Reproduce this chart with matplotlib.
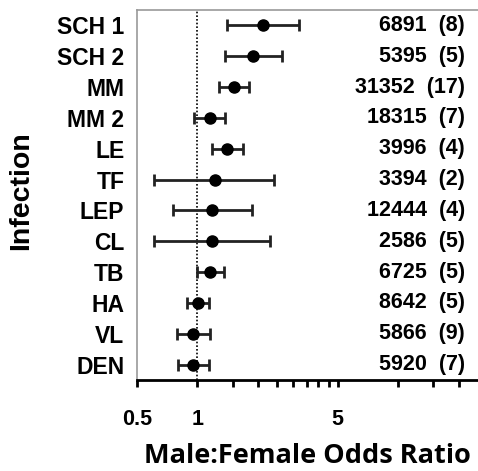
import numpy as np
import matplotlib.pyplot as plt
import matplotlib.transforms as mtransforms

infections = ['SCH 1', 'SCH 2', 'MM', 'MM 2', 'LE', 'TF', 'LEP', 'CL', 'TB', 'HA', 'VL', 'DEN']
odds_ratio = [2.12, 1.90, 1.52, 1.15, 1.41, 1.22, 1.18, 1.18, 1.15, 1.01, 0.95, 0.95]
ci_low     = [1.41, 1.38, 1.28, 0.96, 1.18, 0.61, 0.76, 0.61, 1.00, 0.89, 0.79, 0.80]
ci_high    = [3.20, 2.65, 1.80, 1.38, 1.69, 2.40, 1.87, 2.29, 1.36, 1.14, 1.15, 1.14]
n_cases    = [6891, 5395, 31352, 18315, 3996, 3394, 12444, 2586, 6725, 8642, 5866, 5920]
n_studies  = [8, 5, 17, 7, 4, 2, 4, 5, 5, 5, 9, 7]

major_ticks = [0.5, 1, 5]
minor_ticks = [1.5, 2, 2.5, 3, 3.5, 4, 4.5, 10, 15, 20]

plt.rcParams['font.family'] = ['Liberation Sans', 'DejaVu Sans']

fig = plt.figure(figsize=(4.78, 4.71), dpi=100)
ax = fig.add_axes([0.2866, 0.1932, 0.7134, 0.7856])

pos = np.arange(len(infections))
or_arr = np.array(odds_ratio)
err = [or_arr - np.array(ci_low), np.array(ci_high) - or_arr]

ax.axvline(1, color='black', linestyle=(0, (1, 1.2)), linewidth=1.2, zorder=1)
ax.errorbar(or_arr, pos, xerr=err, fmt='o', color='black', ecolor='#222222',
            elinewidth=2, capsize=4.5, capthick=2, markersize=8, zorder=3)

ax.set_xscale('log')
ax.set_xlim(0.5, 25)
ax.set_ylim(len(infections) - 0.5, -0.5)

ax.set_xticks(major_ticks)
ax.set_xticklabels(['0.5', '1', '5'])
ax.set_xticks(minor_ticks, minor=True)
ax.set_xticklabels([], minor=True)
ax.tick_params(axis='x', which='both', direction='out', length=5, width=2,
               pad=16, labelsize=15.5)
for lab in ax.get_xticklabels():
    lab.set_fontweight('bold')

ax.set_yticks(pos)
ax.set_yticklabels(infections, fontsize=16.5, fontweight='bold')
ax.tick_params(axis='y', length=0, pad=9)

for side in ['left', 'top', 'right']:
    ax.spines[side].set_color('#999999')
    ax.spines[side].set_linewidth(1.2)
ax.spines['right'].set_visible(False)
ax.spines['bottom'].set_linewidth(2)

trans = mtransforms.blended_transform_factory(ax.transAxes, ax.transData)
for i in range(len(infections)):
    ax.text(0.962, pos[i], f'{n_cases[i]}  ({n_studies[i]})', transform=trans,
            ha='right', va='center', fontsize=15.5, fontweight='bold')

ax.set_xlabel('Male:Female Odds Ratio', fontsize=19.5, fontweight='bold',
              family='Open Sans', labelpad=9)
fig.text(0.044, 0.595, 'Infection', rotation=90, ha='center', va='center',
         fontsize=20.5, fontweight='bold')

fig.savefig('out.png', dpi=100)
plt.close(fig)
